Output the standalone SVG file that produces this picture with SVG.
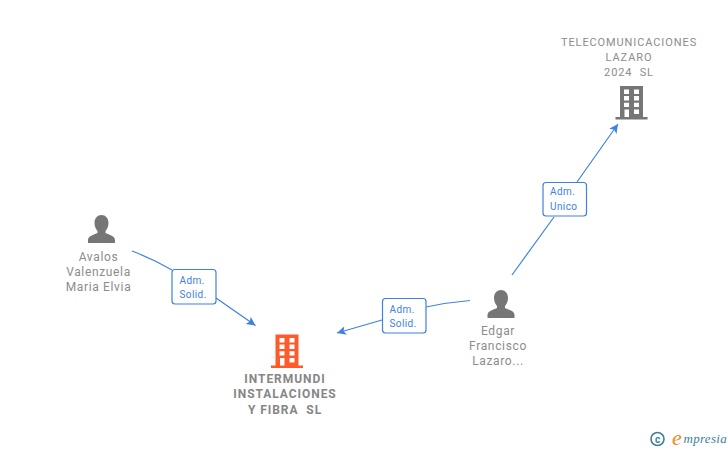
<svg xmlns="http://www.w3.org/2000/svg" xmlns:xlink="http://www.w3.org/1999/xlink" width="728" height="450" viewBox="0 0 728 450">
<style>
text{font-family:Roboto,"Liberation Sans",Arial,sans-serif;text-anchor:middle;white-space:pre}
.n{font-size:12px;fill:#8c8c8c;letter-spacing:.65px}
.t{font-size:11px;fill:#8c8c8c;letter-spacing:.9px}
.b{font-size:12px;font-weight:700;fill:#868686;letter-spacing:.95px}
.e{fill:none;stroke:#3f80e2;stroke-width:1.2}
.l{fill:#fff;stroke:#3f80e2;stroke-width:1.2}
.lt{font-size:10px;fill:#3f80e2;text-anchor:start;letter-spacing:.4px}
.w{fill:#fff}
</style>
<defs>
<marker id="a" markerUnits="userSpaceOnUse" markerWidth="11" markerHeight="11" refX="9" refY="4.500" orient="auto" viewBox="0 0 11 9"><path d="M0 0 L9 4.500 L0 9 L2.200 4.500Z" fill="#3f80e2"/></marker>
<g id="bld"><path d="M4.500 0H27.500V31H32V33.500H0V31H4.500Z"/><path class="w" d="M8.500 3.500H13.500V8H8.500ZM18.500 3.500H23.500V8H18.500ZM8.500 10H13.500V14.500H8.500ZM18.500 10H23.500V14.500H18.500ZM8.500 16.700H13.500V21H8.500ZM18.500 16.700H23.500V21H18.500ZM9 23.500H13.500V31H9ZM18.500 23.500H23.500V28H18.500Z"/></g>
<path id="psn" d="M13.500 0C17.500 0 20.500 3.200 20.500 8C20.500 11.500 19 14.500 17.500 16V18C20 19.500 27 20.500 27 25V28H0V25C0 20.500 7 19.500 9.500 18V16C8 14.500 6.500 11.500 6.500 8C6.500 3.200 9.500 0 13.500 0Z" fill="#767676"/>
</defs>
<g id="connectors">
<path class="e" d="M132 251Q153 259 172 270"/>
<path class="e" marker-end="url(#a)" d="M216 298L255.500 325.500"/>
<path class="e" d="M470 300.500Q447 302.500 426 307"/>
<path class="e" marker-end="url(#a)" d="M382 320L337 333"/>
<path class="e" d="M512 275L554 217"/>
<path class="e" marker-end="url(#a)" d="M577 182L618 124"/>
</g>
<g id="label-1"><rect class="l" x="172" y="269.500" width="44" height="34.500" rx="3"/><text class="lt" x="179.500" y="283.500">Adm.</text><text class="lt" x="179.500" y="298">Solid.</text></g>
<g id="label-2"><rect class="l" x="382.500" y="298.500" width="43.500" height="34.500" rx="3"/><text class="lt" x="389.500" y="312.500">Adm.</text><text class="lt" x="389.500" y="327">Solid.</text></g>
<g id="label-3"><rect class="l" x="543" y="182.500" width="43.500" height="33.500" rx="3"/><text class="lt" x="550" y="195">Adm.</text><text class="lt" x="550" y="210">Unico</text></g>
<g id="node-telecom" fill="#767676"><use xlink:href="#bld" href="#bld" x="615.500" y="86"/><text class="t" x="629" y="46">TELECOMUNICACIONES</text><text class="t" x="629" y="61">LAZARO</text><text class="t" x="629" y="76">2024  SL</text></g>
<g id="node-avalos"><use xlink:href="#psn" href="#psn" x="88" y="215"/><text class="n" x="98.500" y="261">Avalos</text><text class="n" x="98.500" y="276">Valenzuela</text><text class="n" x="98.500" y="291">Maria Elvia</text></g>
<g id="node-edgar"><use xlink:href="#psn" href="#psn" x="487.500" y="290"/><text class="n" x="498" y="335">Edgar</text><text class="n" x="498" y="350">Francisco</text><text class="n" x="498" y="365">Lazaro...</text></g>
<g id="node-intermundi" fill="#ff5a2b"><use xlink:href="#bld" href="#bld" x="271" y="334.500"/><text class="b" x="285" y="383">INTERMUNDI</text><text class="b" x="285" y="398">INSTALACIONES</text><text class="b" x="285" y="414">Y FIBRA  SL</text></g>
<g id="logo"><circle cx="657.500" cy="439" r="6.500" fill="none" stroke="#3d7f99" stroke-width="1.600"/><text x="657.500" y="442.500" style="font-size:10px;font-weight:700;fill:#3d7f99">c</text><text x="677" y="445" style="font-family:'Liberation Serif',serif;font-size:22px;font-style:italic;fill:#f08a1d">e</text><text x="683.500" y="443" style="font-family:'Liberation Serif',serif;font-size:13px;font-style:italic;fill:#3d7f99;letter-spacing:.3px;text-anchor:start">mpresia</text></g>
</svg>
